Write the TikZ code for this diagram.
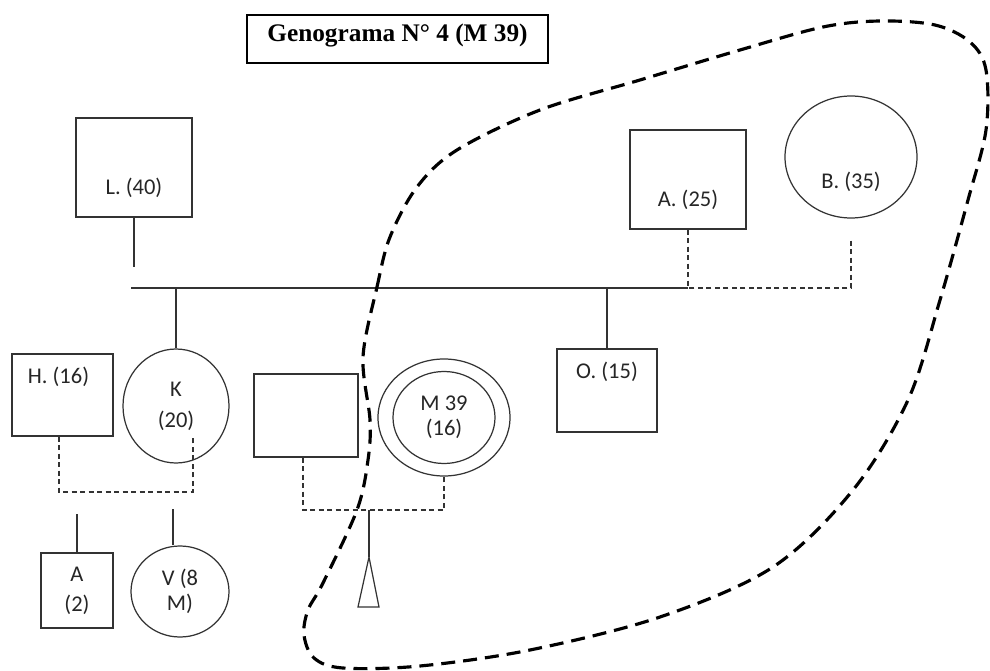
\documentclass[tikz,border=0pt]{standalone}
\usepackage{fontspec}
\setmainfont{Liberation Serif}
\setsansfont{Carlito}
\usepackage{tikz}
\usetikzlibrary{shapes.geometric,positioning}

\begin{document}
\begin{tikzpicture}[
  x=0.2mm, y=-0.2mm,
  font=\sffamily\fontsize{12.8}{16}\selectfont,
  sq/.style={draw=black!80, line width=0.7pt, inner sep=0pt},
  ci/.style={sq, ellipse},
  lbl/.style={text=black!85, align=center},
  tight/.style={font=\sffamily\fontsize{12.8}{14}\selectfont},
  ln/.style={draw=black!80, line width=0.7pt},
  dl/.style={ln, dash pattern=on 1mm off 0.7mm},
  lasso/.style={draw=black, line width=1.8pt, dash pattern=on 2.8mm off 1.6mm},
]
\fill[white] (0,0) rectangle (990,671);
\useasboundingbox (0,0) rectangle (990,671);

% ---------- title ----------
\node[draw, line width=0.7pt, inner sep=0pt, minimum width=60.2mm,
      text height=5.4mm, text depth=4.2mm,
      font=\rmfamily\bfseries\fontsize{14.4}{17}\selectfont] (title) at (397.5,39) {Genograma N° 4 (M 39)};

% ---------- parents ----------
\node[sq, minimum width=23.2mm, minimum height=19.8mm,
      label={[lbl, yshift=-4.1mm]center:L. (40)}] (L) at (134,167.5) {};
\node[sq, minimum width=23.2mm, minimum height=19.8mm,
      label={[lbl, yshift=-4.1mm]center:A. (25)}] (A) at (688,179.5) {};
\node[ci, minimum width=26.4mm, minimum height=24.4mm,
      label={[lbl, yshift=-5mm]center:B. (35)}] (B) at (851,157) {};

\coordinate (stubL) at ([yshift=-9.8mm]L.south);
\coordinate (barW) at (131,288);
\coordinate (barA) at (A.south |- barW);
\coordinate (barB) at (B.south |- barW);
\coordinate (stubB) at ([yshift=-4.4mm]B.south);
\draw[ln] (L.south) -- (stubL);
\draw[ln] (barW) -- (barA);
\draw[dl] (A.south) -- (barA);
\draw[dl] (stubB) -- (barB) -- (barA);

% ---------- children ----------
\node[sq, minimum width=20.2mm, minimum height=16.4mm,
      label={[lbl, xshift=-0.8mm, yshift=3.6mm]center:H. (16)}] (H) at (62.5,395) {};
\node[ci, lbl, minimum width=21.2mm, minimum height=22.8mm,
      font=\sffamily\fontsize{12.8}{17.5}\selectfont] (K) at (176,406) {K\\(20)};
\node[sq, minimum width=20mm, minimum height=16.6mm,
      label={[lbl, yshift=3.7mm]center:O. (15)}] (O) at (607,390.5) {};
\node[sq, minimum width=20.8mm, minimum height=16.6mm] (P) at (306,415.5) {};
\node[ci, minimum width=26.4mm, minimum height=23.4mm] (M) at (444,417.5) {};
\node[ci, lbl, tight, minimum width=20.4mm, minimum height=18.4mm] (Min) at (M) {M 39\\(16)};

\draw[ln] (K.north |- barW) -- (K.north);
\draw[ln] (O.north |- barW) -- (O.north);

% ---------- grandchildren ----------
\node[sq, lbl, minimum width=14.4mm, minimum height=15mm,
      font=\sffamily\fontsize{12.8}{17}\selectfont] (A2) at (77,590.5) {A\\(2)};
\node[ci, lbl, tight, minimum width=19.6mm, minimum height=18.2mm] (V) at (180,591.5) {V (8\\M)};

\coordinate (hkW) at (59,492);
\coordinate (hkE) at (193,492);
\draw[dl] (H.south -| hkW) -- (hkW) -- (hkE) -- (hkE |- H.south);
\coordinate (stubA2) at ([yshift=7.6mm]A2.north);
\draw[ln] (stubA2) -- (A2.north);
\coordinate (stubV) at (173,509);
\draw[ln] (stubV) -- (stubV |- V.north);

\coordinate (pmW) at (303,510);
\coordinate (pmE) at (M.south |- pmW);
\draw[dl] (P.south -| pmW) -- (pmW) -- (pmE) -- (M.south);
\coordinate (kid) at (369,557);
\draw[ln] (kid |- pmW) -- (kid);
\draw[ln] (kid) -- ++(-11,50) -- ++(21,0) -- cycle;

% ---------- lasso round M 39 ----------
\draw[lasso] plot[smooth cycle, tension=0.55] coordinates {
  (363,357) (377,287) (390,237) (417,187) (457,150) (540,110) (640,80)
  (740,50) (823,27) (880,21) (935,25) (970,42) (986,70) (986,130)
  (968,200) (940,300) (908,400) (853,490) (773,567) (660,617) (530,650)
  (420,666) (343,668) (314,658) (304,635) (308,610) (323,583) (357,510)
  (368,460) (370,420)};

\end{tikzpicture}
\end{document}
